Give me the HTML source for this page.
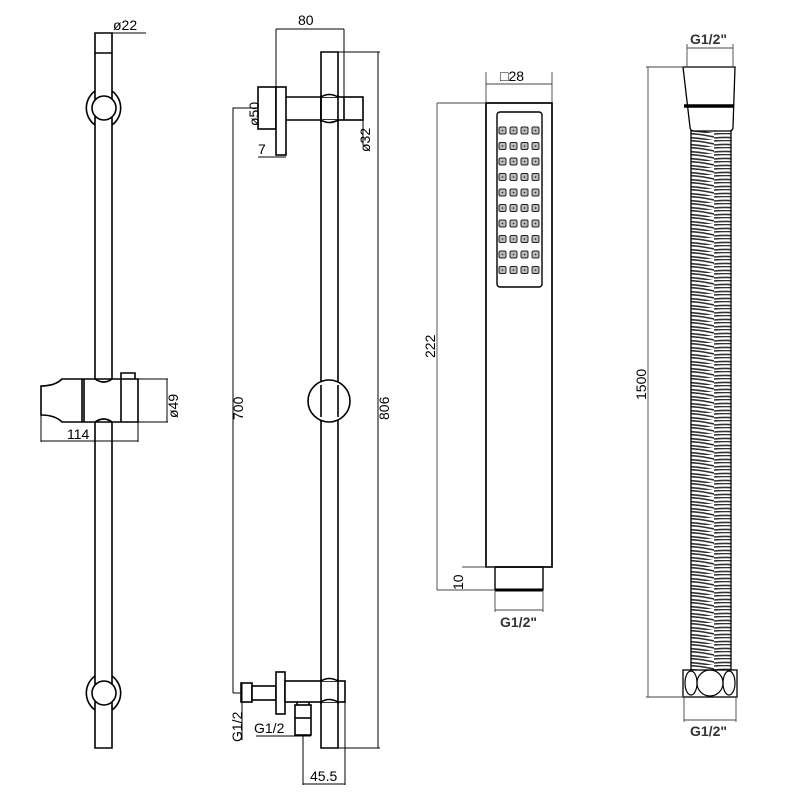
<!DOCTYPE html>
<html><head><meta charset="utf-8"><style>
html,body{margin:0;padding:0;background:#fff;}
svg{display:block}
text{font-family:"Liberation Sans",sans-serif;font-size:14px;fill:#000}
</style></head><body>
<svg width="800" height="800" viewBox="0 0 800 800" xmlns="http://www.w3.org/2000/svg">
<defs>
<pattern id="thr" x="0" y="0" width="42" height="7" patternUnits="userSpaceOnUse">
<path d="M0 1 Q21 -1 42 4 M0 5 Q21 3 42 8" stroke="#333" stroke-width="1.6" fill="none"/>
</pattern>
</defs>
<g stroke="#000" stroke-width="1.6" fill="none">
<!-- LEFT VIEW -->
<path d="M95 33 V748 H112 V33 Z"/>
<line x1="95" y1="53" x2="112" y2="53"/>
<line x1="95" y1="33" x2="146" y2="33" stroke-width="1"/>
<path d="M95 91 A21 21 0 0 0 95 125"/><path d="M112 91 A21 21 0 0 1 112 125"/>
<circle cx="104" cy="108" r="12" fill="#fff"/>
<path d="M95 676 A21 21 0 0 0 95 710"/><path d="M112 676 A21 21 0 0 1 112 710"/>
<circle cx="104" cy="693" r="12" fill="#fff"/>
<!-- slider -->
<path d="M41 386 Q55 386 62 379 H138 V422 H62 Q55 415 41 415 Z" fill="#fff"/>
<path d="M95 379 Q104 385 112 379" /><path d="M95 422 Q104 416 112 422"/>
<line x1="82" y1="379" x2="82" y2="422"/><line x1="84" y1="379" x2="84" y2="422"/>
<line x1="121" y1="379" x2="121" y2="422"/>
<path d="M121 379 V373 H135 V379"/>
<g stroke-width="1">
<line x1="138" y1="379" x2="168" y2="379"/><line x1="138" y1="422" x2="168" y2="422"/>
<line x1="167" y1="379" x2="167" y2="422"/>
<line x1="41" y1="415" x2="41" y2="442"/><line x1="138" y1="422" x2="138" y2="442"/>
<line x1="41" y1="441" x2="138" y2="441"/>
</g>
<!-- MIDDLE VIEW -->
<path d="M321 52 H338 V748 H321 Z"/>
<circle cx="329" cy="401" r="21" fill="#fff"/>
<line x1="321" y1="385" x2="321" y2="417"/><line x1="338" y1="385" x2="338" y2="417"/>
<!-- top bracket -->
<rect x="258" y="87" width="18" height="42" fill="#fff"/>
<rect x="276" y="87" width="10" height="68" fill="#fff"/>
<path d="M286 97 H321 M286 120 H321" />
<rect x="321" y="97" width="42" height="23" fill="#fff"/>
<path d="M321 97 Q329 92 338 97 M321 120 Q329 125 338 120" fill="#fff"/>
<line x1="321" y1="95" x2="321" y2="122"/><line x1="338" y1="95" x2="338" y2="122"/>
<line x1="344" y1="97" x2="344" y2="120"/>
<g stroke-width="1">
<line x1="276" y1="29" x2="344" y2="29"/>
<line x1="276" y1="29" x2="276" y2="87"/><line x1="344" y1="29" x2="344" y2="97"/>
<line x1="321" y1="52" x2="380" y2="52"/><line x1="321" y1="748" x2="380" y2="748"/>
<line x1="378" y1="52" x2="378" y2="748"/>
<line x1="363" y1="97" x2="363" y2="145"/>
<line x1="258" y1="157" x2="286" y2="157"/>
<path d="M233 693 V108 H258"/><line x1="233" y1="693" x2="241" y2="693"/>
</g>
<!-- bottom bracket -->
<rect x="241" y="683" width="11" height="19" fill="#fff"/>
<rect x="252" y="686" width="24" height="14" fill="#fff"/>
<rect x="276" y="672" width="9" height="42" fill="#fff"/>
<rect x="285" y="681" width="60" height="21" fill="#fff"/>
<path d="M321 681 Q329 676 338 681 M321 702 Q329 697 338 702" fill="#fff"/>
<line x1="321" y1="679" x2="321" y2="704"/><line x1="338" y1="679" x2="338" y2="704"/>
<rect x="295" y="705" width="16" height="30" fill="#fff"/>
<line x1="295" y1="718" x2="311" y2="718"/>
<line x1="297" y1="702" x2="297" y2="705"/><line x1="309" y1="702" x2="309" y2="705"/>
<g stroke-width="1">
<line x1="242" y1="683" x2="242" y2="740"/>
<line x1="256" y1="736" x2="311" y2="736"/>
<line x1="303" y1="736" x2="303" y2="785"/><line x1="345" y1="702" x2="345" y2="785"/>
<line x1="303" y1="784" x2="345" y2="784"/>
</g>
<!-- HAND SHOWER -->
<rect x="486" y="103" width="66" height="464" fill="#fff" stroke-width="1.7"/>
<rect x="497" y="112" width="45" height="175" rx="3" stroke-width="1.4"/>
<rect x="495" y="567" width="48" height="23" stroke-width="1.4"/>
<line x1="495" y1="590" x2="543" y2="590" stroke-width="3"/>
<g stroke-width="0.9" stroke="#444">
<line x1="486" y1="84" x2="552" y2="84"/>
<line x1="486" y1="72" x2="486" y2="103"/><line x1="552" y1="72" x2="552" y2="103"/>
<line x1="437" y1="103" x2="486" y2="103"/>
<line x1="437" y1="103" x2="437" y2="590"/>
<line x1="437" y1="590" x2="495" y2="590"/>
<line x1="462" y1="567" x2="495" y2="567"/>
<line x1="495" y1="590" x2="495" y2="612"/><line x1="543" y1="590" x2="543" y2="612"/>
<line x1="495" y1="610" x2="543" y2="610"/>
</g>
<!-- HOSE -->
<rect x="691" y="130" width="40" height="540" fill="url(#thr)" stroke="none"/>
<line x1="691" y1="130" x2="691" y2="670" stroke-width="1.3"/>
<line x1="731" y1="130" x2="731" y2="670" stroke-width="1.3"/>
<path d="M683 67 H735 L733 127 Q733 131 729 131 H694 Q690 131 690 127 Z" fill="#fff" stroke-width="1.3"/>
<line x1="684" y1="106" x2="734" y2="106" stroke-width="3.5"/>
<rect x="683" y="670" width="54" height="27" fill="#fff" stroke-width="1.3"/>
<ellipse cx="710" cy="683" rx="13" ry="13" stroke-width="1.2"/>
<ellipse cx="691" cy="683" rx="6" ry="12" stroke-width="1.2"/>
<ellipse cx="729" cy="683" rx="6" ry="12" stroke-width="1.2"/>
<g stroke-width="0.9" stroke="#444">
<line x1="687" y1="48" x2="733" y2="48"/>
<line x1="687" y1="44" x2="687" y2="67"/><line x1="733" y1="44" x2="733" y2="67"/>
<line x1="646" y1="67" x2="683" y2="67"/>
<line x1="648" y1="67" x2="648" y2="697"/>
<line x1="646" y1="697" x2="683" y2="697"/>
<line x1="684" y1="697" x2="684" y2="722"/><line x1="736" y1="697" x2="736" y2="722"/>
<line x1="684" y1="720" x2="736" y2="720"/>
</g>
</g>
<!-- nozzles -->
<g fill="#bbb" stroke="#222" stroke-width="1">
<g id="row">
<rect x="499" y="127" width="7" height="7" rx="1.5"/><rect x="510" y="127" width="7" height="7" rx="1.5"/>
<rect x="521" y="127" width="7" height="7" rx="1.5"/><rect x="532" y="127" width="7" height="7" rx="1.5"/>
<circle cx="502.5" cy="130.5" r="0.8" fill="#222" stroke="none"/><circle cx="513.5" cy="130.5" r="0.8" fill="#222" stroke="none"/>
<circle cx="524.5" cy="130.5" r="0.8" fill="#222" stroke="none"/><circle cx="535.5" cy="130.5" r="0.8" fill="#222" stroke="none"/>
</g>
<use href="#row" y="15.5"/><use href="#row" y="31"/><use href="#row" y="46.5"/><use href="#row" y="62"/>
<use href="#row" y="77.5"/><use href="#row" y="93"/><use href="#row" y="108.5"/><use href="#row" y="124"/><use href="#row" y="139.5"/>
</g>
<!-- labels -->
<text x="113" y="30">ø22</text>
<text x="298" y="25">80</text>
<text x="67" y="439">114</text>
<text x="258" y="154">7</text>
<text x="310" y="781">45.5</text>
<text x="254" y="733">G1/2</text>
<text transform="translate(259,126) rotate(-90)">ø50</text>
<text transform="translate(370,152) rotate(-90)">ø32</text>
<text transform="translate(178,418) rotate(-90)">ø49</text>
<text transform="translate(243,420) rotate(-90)">700</text>
<text transform="translate(389,420) rotate(-90)">806</text>
<text transform="translate(242,742) rotate(-90)">G1/2</text>
<text x="500" y="81">□28</text>
<text transform="translate(435,358) rotate(-90)">222</text>
<text transform="translate(463,590) rotate(-90)">10</text>
<text x="500" y="627" style="font-weight:bold;fill:#333">G1/2"</text>
<text transform="translate(646,400) rotate(-90)">1500</text>
<text x="690" y="44" style="font-weight:bold;fill:#333">G1/2"</text>
<text x="690" y="736" style="font-weight:bold;fill:#333">G1/2"</text>
</svg>
</body></html>
